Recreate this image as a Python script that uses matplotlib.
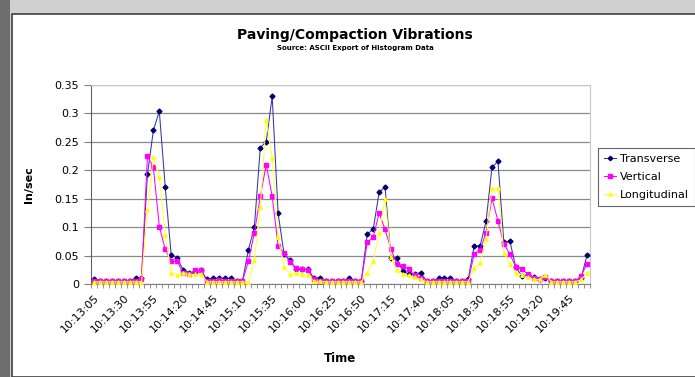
import matplotlib
matplotlib.use('Agg')
import matplotlib.pyplot as plt
from matplotlib.patches import Rectangle
import numpy as np

# Messwerte (in/sec), eine Probe alle 5 s ab 10:13:05
transverse = [0.009, 0.005, 0.005, 0.005, 0.005, 0.005, 0.005, 0.010, 0.010, 0.193,
              0.270, 0.304, 0.170, 0.051, 0.046, 0.025, 0.020, 0.021, 0.025, 0.008,
              0.010, 0.010, 0.010, 0.010, 0.005, 0.005, 0.060, 0.100, 0.240, 0.250,
              0.330, 0.124, 0.053, 0.042, 0.026, 0.026, 0.026, 0.011, 0.011, 0.005,
              0.005, 0.005, 0.005, 0.010, 0.005, 0.005, 0.088, 0.096, 0.161, 0.171,
              0.045, 0.045, 0.022, 0.018, 0.018, 0.020, 0.005, 0.005, 0.010, 0.010,
              0.010, 0.005, 0.005, 0.008, 0.067, 0.067, 0.110, 0.205, 0.216, 0.073,
              0.076, 0.030, 0.014, 0.016, 0.012, 0.009, 0.010, 0.005, 0.005, 0.005,
              0.005, 0.005, 0.010, 0.051]
vertical = [0.005, 0.005, 0.005, 0.005, 0.005, 0.005, 0.005, 0.005, 0.008, 0.225,
            0.205, 0.101, 0.061, 0.040, 0.040, 0.020, 0.018, 0.024, 0.024, 0.005,
            0.005, 0.007, 0.006, 0.005, 0.005, 0.005, 0.040, 0.090, 0.154, 0.210,
            0.154, 0.067, 0.054, 0.039, 0.028, 0.026, 0.025, 0.008, 0.006, 0.005,
            0.005, 0.005, 0.005, 0.005, 0.005, 0.005, 0.073, 0.082, 0.125, 0.096,
            0.061, 0.035, 0.032, 0.026, 0.015, 0.010, 0.005, 0.005, 0.006, 0.005,
            0.005, 0.005, 0.005, 0.005, 0.053, 0.060, 0.090, 0.151, 0.111, 0.070,
            0.053, 0.030, 0.026, 0.018, 0.010, 0.008, 0.012, 0.005, 0.005, 0.005,
            0.005, 0.005, 0.014, 0.036]
longitudinal = [0.004, 0.004, 0.004, 0.004, 0.004, 0.004, 0.004, 0.004, 0.004, 0.130,
                0.224, 0.189, 0.086, 0.020, 0.016, 0.020, 0.017, 0.017, 0.017, 0.004,
                0.004, 0.004, 0.004, 0.004, 0.004, 0.004, 0.003, 0.042, 0.136, 0.288,
                0.221, 0.083, 0.030, 0.018, 0.020, 0.017, 0.015, 0.005, 0.005, 0.004,
                0.004, 0.004, 0.004, 0.004, 0.004, 0.004, 0.020, 0.040, 0.090, 0.150,
                0.047, 0.025, 0.018, 0.015, 0.012, 0.008, 0.004, 0.004, 0.004, 0.004,
                0.004, 0.004, 0.004, 0.004, 0.028, 0.037, 0.080, 0.168, 0.168, 0.055,
                0.035, 0.020, 0.016, 0.012, 0.008, 0.008, 0.015, 0.004, 0.004, 0.004,
                0.004, 0.004, 0.008, 0.019]

# Achsenbeschriftung: jede 5. Probe
tick_labels = ['10:13:05', '10:13:30', '10:13:55', '10:14:20', '10:14:45', '10:15:10',
               '10:15:35', '10:16:00', '10:16:25', '10:16:50', '10:17:15', '10:17:40',
               '10:18:05', '10:18:30', '10:18:55', '10:19:20', '10:19:45']
label_step = 5

W, H = 695, 377
fig = plt.figure(figsize=(W / 100, H / 100), dpi=100)
fig.patch.set_facecolor('white')

# grauer Rahmen / Schatten wie im Screenshot
fig.add_artist(Rectangle((0, 0), 1, 1, transform=fig.transFigure,
                         facecolor='#cfcfcf', edgecolor='none', zorder=-10))
fig.add_artist(Rectangle((0, 0), 10 / W, 1, transform=fig.transFigure,
                         facecolor='#6e6e6e', edgecolor='none', zorder=-9))
fig.add_artist(Rectangle((12 / W, 0), 1, 1 - 14 / H, transform=fig.transFigure,
                         facecolor='white', edgecolor='#404040', linewidth=1.2, zorder=-8))

ax = fig.add_axes([91 / W, 1 - 284 / H, 499 / W, 199 / H])

x = np.arange(len(transverse))
ax.plot(x, transverse, color='#3535a5', lw=0.75, marker='D', ms=2.5,
        mfc='#000070', mec='#000070', label='Transverse', zorder=3)
ax.plot(x, vertical, color='#ff00ff', lw=0.75, marker='s', ms=2.5,
        mfc='#ff00ff', mec='#ff00ff', label='Vertical', zorder=4)
ax.plot(x, longitudinal, color='#ffff40', lw=0.75, marker='^', ms=2.5,
        mfc='#ffff00', mec='#ffff00', label='Longitudinal', zorder=5)

ax.set_xlim(-0.5, len(x) - 0.5)
ax.set_ylim(0, 0.35)
ax.set_yticks(np.arange(0, 0.351, 0.05))
ax.set_yticklabels(['0', '0.05', '0.1', '0.15', '0.2', '0.25', '0.3', '0.35'], fontsize=8)
ax.grid(True, axis='y', color='#8a8a8a', lw=0.9)
ax.set_axisbelow(True)

ax.set_xticks(np.arange(0, len(x), label_step))
ax.set_xticklabels(tick_labels, rotation=45, ha='right', rotation_mode='anchor', fontsize=8)
ax.set_xticks(np.arange(-0.5, len(x), 1), minor=True)
ax.tick_params(axis='x', which='major', length=0, pad=6)
ax.tick_params(axis='x', which='minor', length=3, color='#808080', width=0.6)
ax.tick_params(axis='y', length=5, color='#808080', width=0.8)

for s in ['top', 'right']:
    ax.spines[s].set_color('#c8c8c8')
ax.spines['left'].set_color('#606060')
ax.spines['bottom'].set_color('#808080')

ax.set_xlabel('Time', fontsize=8.5, fontweight='bold', labelpad=13)
ax.set_ylabel('In/sec', fontsize=8, fontweight='bold', labelpad=15)

fig.text(355 / W, 1 - 35 / H, 'Paving/Compaction Vibrations', ha='center', va='center',
         fontsize=10, fontweight='bold')
fig.text(355 / W, 1 - 48 / H, 'Source: ASCII Export of Histogram Data', ha='center',
         va='center', fontsize=5, fontweight='bold')

leg = fig.legend(loc='upper left', bbox_to_anchor=(598 / W, 1 - 148 / H),
                 borderaxespad=0, fontsize=8, frameon=True, fancybox=False,
                 handlelength=1.1, handletextpad=0.4, borderpad=0.5,
                 labelspacing=0.75, markerscale=0.9)
leg.get_frame().set_edgecolor('#404040')
leg.get_frame().set_linewidth(0.8)

fig.savefig('out.png', dpi=100)
